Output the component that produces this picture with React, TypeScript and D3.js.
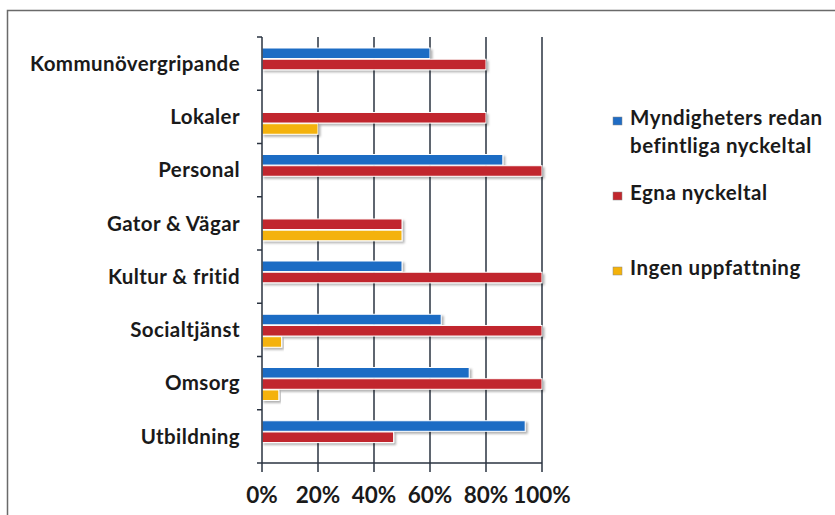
import React, { useEffect, useRef } from 'react';
import * as d3 from 'd3';

const categories = [
  'Kommunövergripande',
  'Lokaler',
  'Personal',
  'Gator & Vägar',
  'Kultur & fritid',
  'Socialtjänst',
  'Omsorg',
  'Utbildning',
];

const seriesNames = ['Myndigheters redan befintliga nyckeltal', 'Egna nyckeltal', 'Ingen uppfattning'];
const seriesColors = ['#1f6cc4', '#c1272d', '#f4b20a'];

// values in percent, per category (same order as categories)
const myndigheter = [60, 0, 86, 0, 50, 64, 74, 94];
const egna = [80, 80, 100, 50, 100, 100, 100, 47];
const ingen = [0, 20, 0, 50, 0, 7, 6, 0];

const xTicks = [0, 20, 40, 60, 80, 100];

const legendLines = [['Myndigheters redan', 'befintliga nyckeltal'], ['Egna nyckeltal'], ['Ingen uppfattning']];

const App: React.FC = () => {
  const svgRef = useRef<SVGSVGElement | null>(null);

  useEffect(() => {
    if (!svgRef.current) return;
    const width = 835;
    const height = 515;
    const margin = { top: 37, right: 293, bottom: 52, left: 262 };
    const font = 'Lato, "Open Sans", sans-serif';

    const svg = d3.select(svgRef.current);
    svg.selectAll('*').remove();
    svg.attr('width', width).attr('height', height);

    svg.append('rect').attr('width', width).attr('height', height).attr('fill', '#fff');

    // outer frame
    svg.append('path')
      .attr('d', `M7.5,${height} V10.5 H${width}`)
      .attr('fill', 'none')
      .attr('stroke', '#6a6a6a')
      .attr('stroke-width', 1.5);

    const values = [myndigheter, egna, ingen];

    const x = d3.scaleLinear()
      .domain([0, 100])
      .range([margin.left, width - margin.right]);

    const y0 = d3.scaleBand<string>()
      .domain(categories)
      .range([margin.top, height - margin.bottom]);

    const y1 = d3.scaleBand<string>()
      .domain(seriesNames)
      .range([11, 44])
      .paddingInner(0.06);

    const defs = svg.append('defs');
    const filter = defs.append('filter').attr('id', 'shadow').attr('x', '-5%').attr('y', '-30%').attr('width', '115%').attr('height', '190%');
    filter.append('feDropShadow')
      .attr('dx', 2).attr('dy', 2).attr('stdDeviation', 1)
      .attr('flood-color', '#000').attr('flood-opacity', 0.3);

    // vertical gridlines
    svg.append('g')
      .selectAll('line')
      .data(xTicks.slice(1))
      .enter()
      .append('line')
      .attr('x1', d => x(d))
      .attr('x2', d => x(d))
      .attr('y1', margin.top)
      .attr('y2', height - margin.bottom + 9)
      .attr('stroke', '#2a3340')
      .attr('stroke-width', 1.5);

    // bars
    const groups = svg.append('g')
      .selectAll('g')
      .data(categories)
      .enter()
      .append('g')
      .attr('transform', c => `translate(0,${y0(c)})`);

    groups.selectAll('rect')
      .data((c, i) => seriesNames.map((s, si) => ({ s, si, v: values[si][i] })).filter(d => d.v > 0))
      .enter()
      .append('rect')
      .attr('x', x(0))
      .attr('y', d => y1(d.s)!)
      .attr('width', d => x(d.v) - x(0))
      .attr('height', y1.bandwidth())
      .attr('fill', d => seriesColors[d.si])
      .attr('stroke', '#fff')
      .attr('stroke-width', 1)
      .attr('filter', 'url(#shadow)');

    // left axis
    const yAxis = svg.append('g');
    yAxis.append('line')
      .attr('x1', x(0)).attr('x2', x(0))
      .attr('y1', margin.top).attr('y2', height - margin.bottom)
      .attr('stroke', '#2a3340').attr('stroke-width', 1.5);
    yAxis.selectAll('line.tick')
      .data(d3.range(categories.length + 1))
      .enter()
      .append('line')
      .attr('class', 'tick')
      .attr('x1', x(0) - 5).attr('x2', x(0))
      .attr('y1', i => margin.top + i * y0.step())
      .attr('y2', i => margin.top + i * y0.step())
      .attr('stroke', '#2a3340').attr('stroke-width', 1.5);

    yAxis.selectAll('text')
      .data(categories)
      .enter()
      .append('text')
      .attr('x', 240)
      .attr('y', c => y0(c)! + y0.bandwidth() / 2)
      .attr('dy', '0.35em')
      .attr('text-anchor', 'end')
      .attr('font-family', font)
      .attr('font-weight', 700)
      .attr('font-size', 20.5)
      .attr('letter-spacing', 0.4)
      .attr('fill', '#1a1a1a')
      .text(c => c);

    // bottom axis
    const xAxis = svg.append('g');
    xAxis.append('line')
      .attr('x1', x(0)).attr('x2', x(100))
      .attr('y1', height - margin.bottom).attr('y2', height - margin.bottom)
      .attr('stroke', '#2a3340').attr('stroke-width', 1.5);
    xAxis.append('line')
      .attr('x1', x(0)).attr('x2', x(0))
      .attr('y1', height - margin.bottom).attr('y2', height - margin.bottom + 9)
      .attr('stroke', '#2a3340').attr('stroke-width', 1.5);
    xAxis.selectAll('text')
      .data(xTicks)
      .enter()
      .append('text')
      .attr('x', d => x(d))
      .attr('y', 503)
      .attr('text-anchor', 'middle')
      .attr('font-family', font)
      .attr('font-weight', 700)
      .attr('font-size', 22.5)
      .attr('fill', '#1a1a1a')
      .text(d => `${d}%`);

    // legend
    const legendY = [125, 200, 275];
    const legend = svg.append('g');
    legendLines.forEach((lines, i) => {
      legend.append('rect')
        .attr('x', 613).attr('y', legendY[i] - 8)
        .attr('width', 9).attr('height', 8)
        .attr('fill', seriesColors[i])
        .attr('stroke', '#888').attr('stroke-width', 0.5);
      lines.forEach((t, li) => {
        legend.append('text')
          .attr('x', 630)
          .attr('y', legendY[i] + li * 28)
          .attr('font-family', font)
          .attr('font-weight', 700)
          .attr('font-size', 20.5)
          .attr('letter-spacing', 0.5)
          .attr('fill', '#1a1a1a')
          .text(t);
      });
    });
  }, []);

  return (
    <div style={{ position: 'absolute', left: 0, top: 0 }}>
      <svg ref={svgRef} style={{ display: 'block' }} />
    </div>
  );
};

export default App;
